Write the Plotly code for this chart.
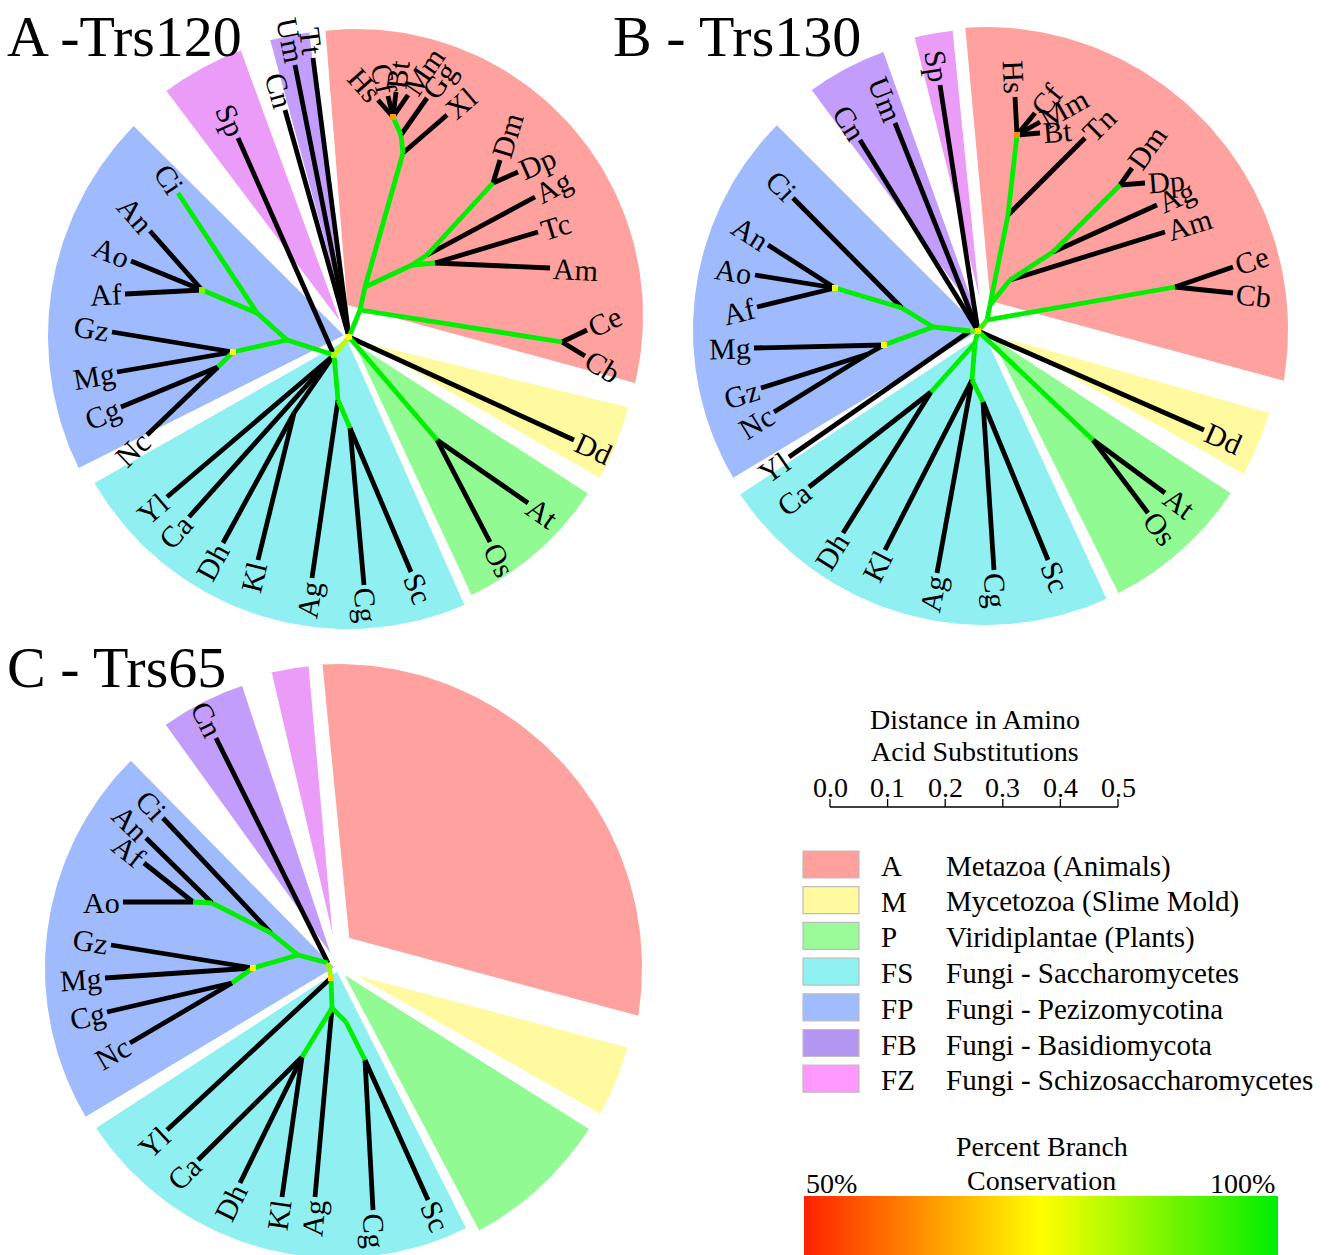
import math
import plotly.graph_objects as go

FIG_W, FIG_H = 1331, 1255
SERIF = "Liberation Serif, Times New Roman, serif"

# ---- clades -------------------------------------------------------------
CLADE_CODES = ["A", "M", "P", "FS", "FP", "FB", "FZ"]
CLADE_NAMES = ["Metazoa (Animals)", "Mycetozoa (Slime Mold)", "Viridiplantae (Plants)",
               "Fungi - Saccharomycetes", "Fungi - Pezizomycotina",
               "Fungi - Basidiomycota", "Fungi - Schizosaccharomycetes"]
SECTOR_COLORS = ["#ffa19e", "#fffaa0", "#92fa92", "#90f0f1", "#9fbbfd", "#c39dfb", "#eb9cf9"]
SWATCH_COLORS = ["#ffa09c", "#fffaa0", "#98fb98", "#8ff2f2", "#9ebcfe", "#b296f0", "#ff99ff"]

# ---- panels --------------------------------------------------------------
PANEL_TITLES = ["A -Trs120", "B - Trs130", "C - Trs65"]
TITLE_POS = [(5, 36), (611, 36), (5, 667)]
PANEL_ROOTS = [(349, 337), (978, 331), (331, 978)]
SECTOR_CENTER_OFFSETS = [(-1, -1), (7, -1), (7, -10)]

# sectors: clade, angle from, angle to (deg, counter-clockwise), radius,
#          arc-centre shift (x, y), apex shift (x, y)
SECTORS_A = [
    ("FP", 135.1, 206.6, 300, 0, 0, 0, 0),
    ("FS", 209.6, 293.9, 293, 0, 0, 0, 0),
    ("P", 295.0, 327.2, 287, 0, 0, 0, 0),
    ("M", 330.1, 346.2, 289, 0, 0, 0, 0),
    ("A", -14.0, 96.6, 287, 8, -20, -3, -29),
    ("FB", 96.8, 105.2, 306, 0, 0, 0, 0),
    ("FZ", 110.1, 127.0, 305, 0, 0, 0, 0),
]
SECTORS_B = [
    ("FP", 135.0, 210.9, 292, 0, 0, 0, 0),
    ("FS", 213.4, 294.8, 295, 0, 0, 0, 0),
    ("P", 296.4, 326.9, 295, 0, 0, 0, 0),
    ("M", 330.4, 344.2, 296, 0, 0, 0, 0),
    ("A", -10.1, 94.2, 303, 0, 0, 3, -27),
    ("FZ", 95.7, 104.0, 301, 0, 0, 0, 0),
    ("FB", 109.6, 126.3, 296, 0, 0, 0, 0),
]
SECTORS_C = [
    ("FP", 134.5, 211.0, 293, 0, 0, 0, 0),
    ("FS", 213.0, 296.7, 290, 0, 0, 0, 0),
    ("P", 297.8, 327.8, 298, 0, 0, 0, 0),
    ("M", 330.5, 345.1, 300, 0, 0, 0, 0),
    ("A", -9.5, 93.4, 304, 0, 0, 9, -28),
    ("FZ", 95.1, 103.1, 303, 0, 0, 0, 0),
    ("FB", 108.3, 125.8, 298, 0, 0, 0, 0),
]

# ---- trees: node, parent, x, y (layout offset from root, y down),
#             branch conservation % (None = terminal/unsupported), tip label
TREE_A = [
    ("a0", None, 0, 0, None, ""),
    ("a1", "a0", -15, 18, 82, ""),
    ("m0", "a0", 11, -27, 100, ""),
    ("m1", "m0", 16, -50, 100, ""),
    ("ceb", "m0", 213, 5, 100, ""),
    ("Ce", "ceb", 238, -7, None, "Ce"),
    ("Cb", "ceb", 236, 19, None, "Cb"),
    ("x1", "m1", 63, -72, 100, ""),
    ("x2", "x1", 78, -82, 100, ""),
    ("dmdp", "x2", 144, -154, 100, ""),
    ("Dm", "dmdp", 151, -177, None, "Dm"),
    ("Dp", "dmdp", 169, -165, None, "Dp"),
    ("Ag1", "x2", 186, -140, None, "Ag"),
    ("x3", "x1", 86, -74, 100, ""),
    ("Tc", "x3", 189, -105, None, "Tc"),
    ("Am", "x3", 201, -69, None, "Am"),
    ("v0", "m1", 54, -184, 100, ""),
    ("Xl", "v0", 98, -222, None, "Xl"),
    ("v1", "v0", 52, -202, 100, ""),
    ("Gg", "v1", 78, -239, None, "Gg"),
    ("v2", "v1", 44, -220, 100, ""),
    ("Hs", "v2", 29, -237, None, "Hs"),
    ("Cf", "v2", 39, -241, None, "Cf"),
    ("Bt", "v2", 47, -245, None, "Bt"),
    ("Mm", "v2", 59, -242, None, "Mm"),
    ("Dd", "a0", 225, 103, None, "Dd"),
    ("pl", "a0", 88, 103, 100, ""),
    ("At", "pl", 179, 166, None, "At"),
    ("Os", "pl", 141, 205, None, "Os"),
    ("Sp", "a1", -111, -199, None, "Sp"),
    ("Cn", "a0", -64, -227, None, "Cn"),
    ("Um", "a0", -54, -272, None, "Um"),
    ("Tt", "a0", -36, -279, None, "Tt"),
    ("fp0", "a1", -62, 3, 100, ""),
    ("fp1", "fp0", -92, -24, 100, ""),
    ("Ci", "fp1", -171, -144, 100, "Ci"),
    ("asp", "fp1", -147, -47, 100, ""),
    ("An", "asp", -199, -106, None, "An"),
    ("Ao", "asp", -218, -76, None, "Ao"),
    ("Af", "asp", -224, -43, None, "Af"),
    ("fp2", "fp0", -116, 15, 100, ""),
    ("Gz", "fp2", -237, -5, None, "Gz"),
    ("Mg", "fp2", -232, 35, None, "Mg"),
    ("fp3", "fp2", -131, 30, 100, ""),
    ("Cg1", "fp3", -228, 70, None, "Cg"),
    ("Nc", "fp3", -202, 98, None, "Nc"),
    ("fs0", "a1", -11, 63, 100, ""),
    ("fs1", "fs0", 1, 91, 100, ""),
    ("Ag2", "fs0", -37, 241, None, "Ag"),
    ("Cg2", "fs1", 15, 248, None, "Cg"),
    ("Sc", "fs1", 62, 235, None, "Sc"),
    ("fs2", "a1", -55, 76, None, ""),
    ("Dh", "fs2", -126, 206, None, "Dh"),
    ("Kl", "fs2", -91, 223, None, "Kl"),
    ("Yl", "a1", -182, 160, None, "Yl"),
    ("Ca", "a1", -160, 180, None, "Ca"),
]
TREE_B = [
    ("b0", None, 0, 0, None, ""),
    ("b1", "b0", -8, 0, 90, ""),
    ("m0", "b0", 9, -11, 95, ""),
    ("m1", "m0", 12, -26, 100, ""),
    ("ceb", "m0", 197, -44, 100, ""),
    ("Ce", "ceb", 255, -64, None, "Ce"),
    ("Cb", "ceb", 255, -38, None, "Cb"),
    ("i1", "m1", 32, -51, 100, ""),
    ("Am", "i1", 187, -99, None, "Am"),
    ("i2", "i1", 75, -79, 100, ""),
    ("Ag1", "i2", 179, -126, None, "Ag"),
    ("i3", "i2", 142, -146, 100, ""),
    ("Dm", "i3", 154, -163, None, "Dm"),
    ("Dp", "i3", 167, -148, None, "Dp"),
    ("m2", "m1", 30, -116, 100, ""),
    ("Tn", "m2", 107, -193, None, "Tn"),
    ("v", "m2", 39, -196, 100, ""),
    ("Hs", "v", 37, -234, None, "Hs"),
    ("Cf", "v", 57, -218, None, "Cf"),
    ("Mm", "v", 62, -209, None, "Mm"),
    ("Bt", "v", 62, -198, None, "Bt"),
    ("Sp", "b0", -38, -246, None, "Sp"),
    ("Um", "b0", -83, -208, None, "Um"),
    ("Cn", "b0", -118, -191, None, "Cn"),
    ("f1", "b1", -45, -4, 100, ""),
    ("f2", "f1", -76, -23, 100, ""),
    ("Ci", "f2", -185, -133, None, "Ci"),
    ("asp", "f2", -143, -43, 100, ""),
    ("An", "asp", -210, -86, None, "An"),
    ("Ao", "asp", -223, -56, None, "Ao"),
    ("Af", "asp", -221, -24, None, "Af"),
    ("mgn", "f1", -94, 14, 100, ""),
    ("Mg", "mgn", -224, 17, None, "Mg"),
    ("gzn", "mgn", -110, 23, None, ""),
    ("Gz", "gzn", -217, 57, None, "Gz"),
    ("Nc", "gzn", -204, 81, None, "Nc"),
    ("Yl", "b1", -189, 126, None, "Yl"),
    ("fs0", "b0", -3, 12, 100, ""),
    ("fs1", "fs0", -47, 61, 100, ""),
    ("Ca", "fs1", -169, 156, None, "Ca"),
    ("Dh", "fs1", -135, 202, None, "Dh"),
    ("fs2", "fs0", -6, 49, 100, ""),
    ("Kl", "fs2", -93, 219, None, "Kl"),
    ("Ag2", "fs2", -41, 242, None, "Ag"),
    ("fs3", "fs2", 5, 71, 100, ""),
    ("Cg", "fs3", 16, 239, None, "Cg"),
    ("Sc", "fs3", 70, 229, None, "Sc"),
    ("pl", "b0", 115, 109, 100, ""),
    ("At", "pl", 187, 162, None, "At"),
    ("Os", "pl", 170, 182, None, "Os"),
    ("Dd", "b0", 226, 99, None, "Dd"),
]
TREE_C = [
    ("c1", None, 0, 0, None, ""),
    ("c0", "c1", -3, -15, 85, ""),
    ("Cn", "c0", -115, -240, None, "Cn"),
    ("f0", "c0", -33, -23, 100, ""),
    ("f1", "f0", -60, -45, 100, ""),
    ("Ci", "f1", -168, -160, None, "Ci"),
    ("f2", "f1", -119, -75, 100, ""),
    ("An", "f2", -185, -140, None, "An"),
    ("f3", "f2", -138, -76, 100, ""),
    ("Ao", "f3", -208, -76, None, "Ao"),
    ("Af", "f3", -187, -115, None, "Af"),
    ("f4", "f0", -78, -10, 100, ""),
    ("Gz", "f4", -220, -33, None, "Gz"),
    ("Mg", "f4", -226, 0, None, "Mg"),
    ("f5", "f4", -99, 5, 100, ""),
    ("Cg1", "f5", -224, 34, None, "Cg"),
    ("Nc", "f5", -201, 65, None, "Nc"),
    ("Yl", "c1", -164, 152, None, "Yl"),
    ("g0", "c1", 1, 30, 100, ""),
    ("g1", "g0", -29, 79, 100, ""),
    ("Ca", "g1", -133, 182, None, "Ca"),
    ("Dh", "g1", -91, 205, None, "Dh"),
    ("Kl", "g1", -49, 219, None, "Kl"),
    ("Ag", "g0", -16, 219, None, "Ag"),
    ("g2", "g0", 15, 44, 100, ""),
    ("g3", "g2", 34, 82, 100, ""),
    ("Cg2", "g3", 42, 232, None, "Cg"),
    ("Sc", "g3", 97, 222, None, "Sc"),
]

# conservation % at internal nodes that carry a marker
NODE_MARKS_A = [("a0", 75), ("a1", 82), ("asp", 88), ("fp2", 74), ("v2", 64)]
NODE_MARKS_B = [("b0", 72), ("asp", 76), ("mgn", 74), ("v", 62)]
NODE_MARKS_C = [("c1", 70), ("f4", 74)]

# distance scale bar (amino acid substitutions per site)
SCALE_TICKS = [0.0, 0.1, 0.2, 0.3, 0.4, 0.5]
SCALE_PX_PER_UNIT = 576
SCALE_ORIGIN = (830, 807)

# conservation colour bar
CONS_MIN, CONS_MAX = 50, 100
CONS_COLORS = [(0.0, (255, 34, 0)), (0.5, (255, 255, 0)), (1.0, (0, 238, 0))]

LABEL_SIZE = 30
CHAR_EM = {'A': .722, 'B': .667, 'C': .667, 'D': .722, 'G': .722, 'H': .722, 'K': .722,
           'M': .889, 'N': .722, 'O': .722, 'S': .556, 'T': .611, 'U': .722, 'X': .722,
           'Y': .722, 'a': .444, 'b': .5, 'c': .444, 'd': .5, 'e': .444, 'f': .333,
           'g': .5, 'h': .5, 'i': .278, 'l': .278, 'm': .778, 'n': .5, 'o': .5,
           'p': .5, 's': .389, 't': .278, 'z': .444}


def cons_rgb(pct):
    t = max(0.0, min(1.0, (pct - CONS_MIN) / (CONS_MAX - CONS_MIN)))
    for (t0, c0), (t1, c1) in zip(CONS_COLORS[:-1], CONS_COLORS[1:]):
        if t <= t1:
            f = (t - t0) / (t1 - t0)
            return "rgb(%d,%d,%d)" % tuple(round(a + (b - a) * f) for a, b in zip(c0, c1))
    return "rgb(%d,%d,%d)" % CONS_COLORS[-1][1]


def text_width(txt, size):
    return sum(CHAR_EM.get(ch, 0.5) for ch in txt) * size


def on_circle(cx, cy, r, deg):
    a = math.radians(deg)
    return cx + r * math.cos(a), cy - r * math.sin(a)


fig = go.Figure()
annotations = []
shapes = []

sector_sets = [SECTORS_A, SECTORS_B, SECTORS_C]
trees = [TREE_A, TREE_B, TREE_C]
marks = [NODE_MARKS_A, NODE_MARKS_B, NODE_MARKS_C]

# ---- coloured clade sectors ----------------------------------------------
edge_x, edge_y = [], []
for (rx, ry), (ox, oy), sectors in zip(PANEL_ROOTS, SECTOR_CENTER_OFFSETS, sector_sets):
    cx, cy = rx + ox, ry + oy
    for clade, t0, t1, r, acx, acy, apx, apy in sectors:
        ax, ay = cx + apx, cy + apy
        n = 80
        arc = [on_circle(cx + acx, cy + acy, r, t0 + (t1 - t0) * k / n) for k in range(n + 1)]
        xs = [ax] + [p[0] for p in arc] + [ax]
        ys = [ay] + [p[1] for p in arc] + [ay]
        fig.add_trace(go.Scatter(x=xs, y=ys, mode="lines", fill="toself",
                                 fillcolor=SECTOR_COLORS[CLADE_CODES.index(clade)],
                                 line=dict(width=0), hoverinfo="skip", showlegend=False))
        for p in (arc[0], arc[-1]):
            edge_x += [ax, p[0], None]
            edge_y += [ay, p[1], None]

fig.add_trace(go.Scatter(x=edge_x, y=edge_y, mode="lines",
                         line=dict(color="white", width=5),
                         hoverinfo="skip", showlegend=False))

# ---- tree branches ---------------------------------------------------------
segments = {}
mark_x, mark_y, mark_c = [], [], []
for (rx, ry), tree, node_marks in zip(PANEL_ROOTS, trees, marks):
    pos = {name: (rx + dx, ry + dy) for name, _, dx, dy, _, _ in tree}
    for name, parent, dx, dy, support, label in tree:
        if parent is None:
            continue
        color = "#000000" if support is None else cons_rgb(support)
        (px, py), (qx, qy) = pos[parent], pos[name]
        sx, sy = segments.setdefault(color, ([], []))
        sx += [px, qx, None]
        sy += [py, qy, None]
        if label:
            ang = math.atan2(qy - py, qx - px)
            deg = math.degrees(ang)
            w = text_width(label, LABEL_SIZE)
            d = 3 + w / 2
            lx, ly = qx + d * math.cos(ang), qy + d * math.sin(ang)
            if -90 <= deg <= 90:
                rot = deg
            else:
                rot = deg - 180 if deg > 0 else deg + 180
            annotations.append(dict(x=lx, y=ly, xref="x", yref="y", text=label,
                                    textangle=rot, showarrow=False,
                                    xanchor="center", yanchor="middle",
                                    font=dict(family=SERIF, size=LABEL_SIZE, color="black")))
    for name, pct in node_marks:
        mark_x.append(pos[name][0])
        mark_y.append(pos[name][1])
        mark_c.append(cons_rgb(pct))

for color in sorted(segments, key=lambda c: c != "#000000"):
    sx, sy = segments[color]
    fig.add_trace(go.Scatter(x=sx, y=sy, mode="lines",
                             line=dict(color=color, width=4.8),
                             hoverinfo="skip", showlegend=False))

fig.add_trace(go.Scatter(x=mark_x, y=mark_y, mode="markers",
                         marker=dict(symbol="square", size=6, color=mark_c, line=dict(width=0)),
                         hoverinfo="skip", showlegend=False))

# ---- panel titles ----------------------------------------------------------
for title, (tx, ty) in zip(PANEL_TITLES, TITLE_POS):
    annotations.append(dict(x=tx, y=ty, xref="x", yref="y", text=title, showarrow=False,
                            xanchor="left", yanchor="middle",
                            font=dict(family=SERIF, size=58, color="black")))

# ---- distance scale bar ----------------------------------------------------
sx0, sy0 = SCALE_ORIGIN
bar_x = [sx0, sx0 + SCALE_TICKS[-1] * SCALE_PX_PER_UNIT, None]
bar_y = [sy0, sy0, None]
for t in SCALE_TICKS:
    xt = sx0 + t * SCALE_PX_PER_UNIT
    bar_x += [xt, xt, None]
    bar_y += [sy0, sy0 - 8, None]
    annotations.append(dict(x=xt, y=787, xref="x", yref="y", text="%.1f" % t,
                            showarrow=False, xanchor="center", yanchor="middle",
                            font=dict(family=SERIF, size=28, color="black")))
fig.add_trace(go.Scatter(x=bar_x, y=bar_y, mode="lines", line=dict(color="black", width=1.3),
                         hoverinfo="skip", showlegend=False))
for txt, yy in (("Distance in Amino", 719), ("Acid Substitutions", 751)):
    annotations.append(dict(x=975, y=yy, xref="x", yref="y", text=txt, showarrow=False,
                            xanchor="center", yanchor="middle",
                            font=dict(family=SERIF, size=28, color="black")))

# ---- clade legend ----------------------------------------------------------
for i, (code, name, col) in enumerate(zip(CLADE_CODES, CLADE_NAMES, SWATCH_COLORS)):
    yc = 866 + i * 35.7
    shapes.append(dict(type="rect", xref="x", yref="y", x0=803, x1=859,
                       y0=yc - 15, y1=yc + 12, fillcolor=col,
                       line=dict(color="#bdbdbd", width=1.2), layer="above"))
    annotations.append(dict(x=879, y=yc, xref="x", yref="y", text=code, showarrow=False,
                            xanchor="left", yanchor="middle",
                            font=dict(family=SERIF, size=29, color="black")))
    annotations.append(dict(x=944, y=yc, xref="x", yref="y", text=name, showarrow=False,
                            xanchor="left", yanchor="middle",
                            font=dict(family=SERIF, size=29, color="black")))

# ---- conservation colour bar -----------------------------------------------
ncol = 240
bar_left, bar_right, bar_top, bar_bottom = 804, 1278, 1196, 1256
cdx = (bar_right - bar_left) / ncol
zrow = [CONS_MIN + (CONS_MAX - CONS_MIN) * (k + 0.5) / ncol for k in range(ncol)]
fig.add_trace(go.Heatmap(z=[zrow, zrow], x0=bar_left + cdx / 2, dx=cdx,
                         y0=bar_top + (bar_bottom - bar_top) / 4, dy=(bar_bottom - bar_top) / 2,
                         zmin=CONS_MIN, zmax=CONS_MAX,
                         colorscale=[[t, "rgb(%d,%d,%d)" % c] for t, c in CONS_COLORS],
                         showscale=False, hoverinfo="skip"))
for txt, xx, yy, anc in (("Percent Branch", 1042, 1146, "center"),
                         ("Conservation", 1041, 1180, "center"),
                         ("50%", 804, 1183, "left"),
                         ("100%", 1277, 1183, "right")):
    annotations.append(dict(x=xx, y=yy, xref="x", yref="y", text=txt, showarrow=False,
                            xanchor=anc, yanchor="middle",
                            font=dict(family=SERIF, size=28, color="black")))

fig.update_layout(
    width=FIG_W, height=FIG_H,
    margin=dict(l=0, r=0, t=0, b=0),
    paper_bgcolor="white", plot_bgcolor="white",
    xaxis=dict(range=[0, FIG_W], visible=False, fixedrange=True),
    yaxis=dict(range=[FIG_H, 0], visible=False, fixedrange=True),
    annotations=annotations, shapes=shapes,
    showlegend=False,
)

fig.write_html("out.html")
